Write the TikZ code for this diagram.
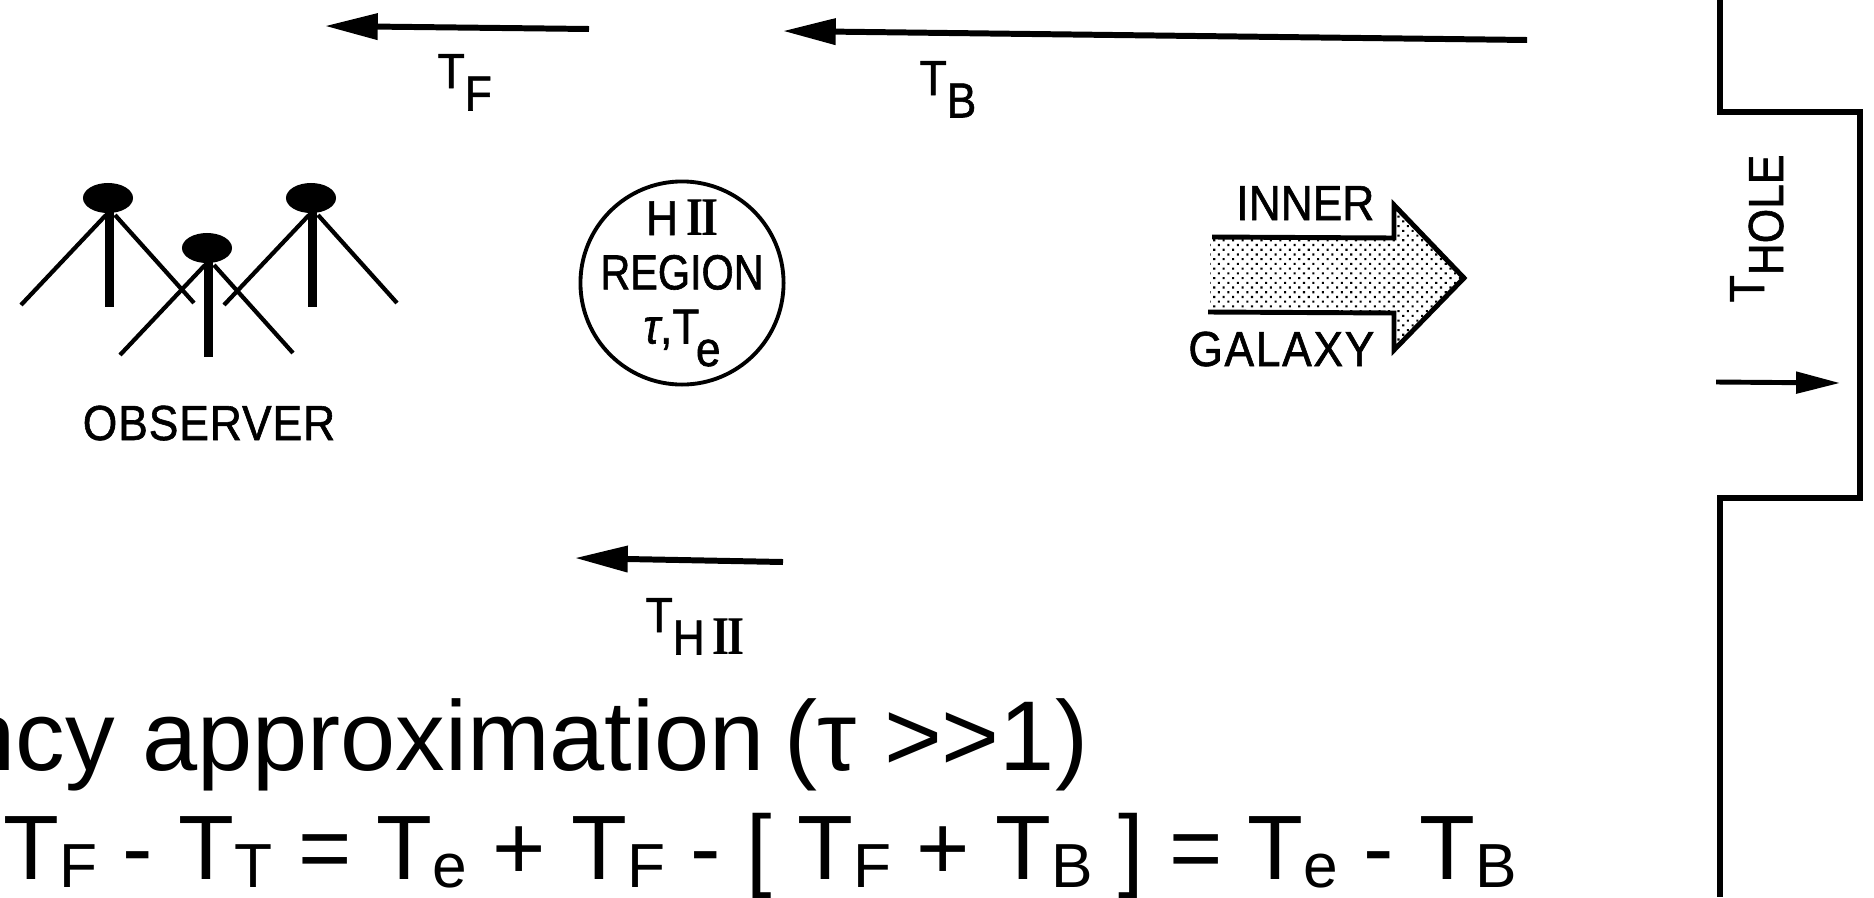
\documentclass[tikz,border=0pt]{standalone}
\usepackage{fontspec}
\setmainfont{Liberation Sans}
\newfontfamily\lblfont[FakeStretch=0.9, FakeBold=1.2]{Liberation Sans}
\newfontfamily\romfont[FakeStretch=0.8]{Liberation Serif}
\usetikzlibrary{arrows.meta, patterns.meta, shapes.geometric}

\newcommand{\lowlbl}[1]{\raisebox{-6.4pt}{#1}}
\newcommand{\lowtxt}[1]{\raisebox{-2.3pt}{\fontsize{17.7}{18}\selectfont #1}}
\newcommand{\hiinum}{{\romfont\bfseries\fontsize{15.5}{15.5}\selectfont I\kern-0.6pt I}}

\begin{document}
\begin{tikzpicture}[
    x=0.01cm, y=-0.01cm,
    lbl/.style={inner sep=0pt, font=\lblfont\fontsize{14}{15.4}\selectfont},
    bigtext/.style={inner sep=0pt, font=\fontsize{26}{26}\selectfont},
    arrow/.style={-{Triangle[length=15pt, width=7.2pt]}, line width=1.7pt},
    shortarrow/.style={-{Triangle[length=12.5pt, width=6pt]}, line width=1.4pt},
    headdot/.style={ellipse, fill=black, inner sep=0pt, minimum width=0.5cm, minimum height=0.3cm},
    stem/.style={line width=2.8pt},
    leg/.style={line width=1.2pt},
    wall/.style={line width=1.7pt, line join=miter},
    region/.style={circle, draw, line width=1.1pt, minimum size=2.03cm, inner sep=-12pt, align=center}
]
\useasboundingbox (0,0) rectangle (1874,897);
\clip (0,0) rectangle (1874,897);

% --- Arrows along the top ---
\coordinate (tfstart) at (589,29);
\coordinate (tfend) at (325,26);
\coordinate (tbstart) at (1527,40);
\coordinate (tbend) at (783,31);
\draw[arrow] (tfstart) -- (tfend);
\draw[arrow] (tbstart) -- (tbend);
\node[lbl, anchor=base west] (tflbl) at (437,88) {T\lowlbl{F}};
\node[lbl, anchor=base west] (tblbl) at (919,95) {T\lowlbl{B}};

% --- Observers ---
\foreach \n/\hx/\hy in {a/108/198, b/207/248, c/311/198} {
    \node[headdot] (head\n) at (\hx,\hy) {};
    \draw[stem] (head\n.center) ++(1.5,0) -- ++(0,109);
    \draw[leg] (head\n.center) ++(-2,17) -- ++(-85,90);
    \draw[leg] (head\n.center) ++(7,17) -- ++(79,88);
}
\node[lbl, anchor=base] (obslbl) at (209,440) {\addfontfeature{LetterSpace=2}OBSERVER};

% --- H II region ---
\node[lbl, region] (hii) at (682,283)
    {H\,\hiinum\\\addfontfeature{FakeStretch=0.84}REGION\\{\itshape τ},T\lowlbl{\kern-1pt e}};

\coordinate (hiistart) at (783,562);
\coordinate (hiiend) at (575,558);
\draw[arrow] (hiistart) -- (hiiend);
\node[lbl, anchor=base west] (hiilbl) at (645,632) {T\lowlbl{H\,\hiinum}};

% --- Inner galaxy arrow ---
\path[pattern={Dots[radius=0.42pt, distance=1.9pt, angle=45]}]
    (1210,238) -- (1394,238) -- (1394,207) -- (1464,278) -- (1394,348) -- (1394,313) -- (1210,312) -- cycle;
\draw[line width=1.4pt, line join=miter] (1212,237) -- (1394,238) -- (1394,205) -- (1464,278) -- (1394,350) -- (1394,313) -- (1208,312);
\node[lbl, anchor=base east] (innerlbl) at (1375,220) {INNER};
\node[lbl, anchor=base east] (galaxylbl) at (1375,366) {\addfontfeature{LetterSpace=3.5}GALAXY};

% --- Hole in the wall ---
\draw[wall] (1720,0) -- (1720,112) -- (1860,112) -- (1860,498) -- (1720,498) -- (1720,897);
\node[lbl, rotate=90, anchor=base west] (holelbl) at (1764,303) {T\raisebox{-5.4pt}{HOLE}};
\coordinate (holestart) at (1716,382);
\coordinate (holeend) at (1840,383);
\draw[shortarrow] (holestart) -- (holeend);

% --- Text at the bottom ---
\node[bigtext, font=\fontsize{28.2}{28.2}\selectfont, anchor=base east] (approx) at (1089,770) {ncy approximation \kern-2.3pt(τ >{}>1)};
\node[bigtext, anchor=base west] (eqline) at (3,879)
    {T\lowtxt{F} - T\lowtxt{T} = T\lowtxt{e} + T\lowtxt{F} - [ T\lowtxt{F} + T\lowtxt{B} ] = T\lowtxt{e} - T\lowtxt{B}};

\end{tikzpicture}
\end{document}
